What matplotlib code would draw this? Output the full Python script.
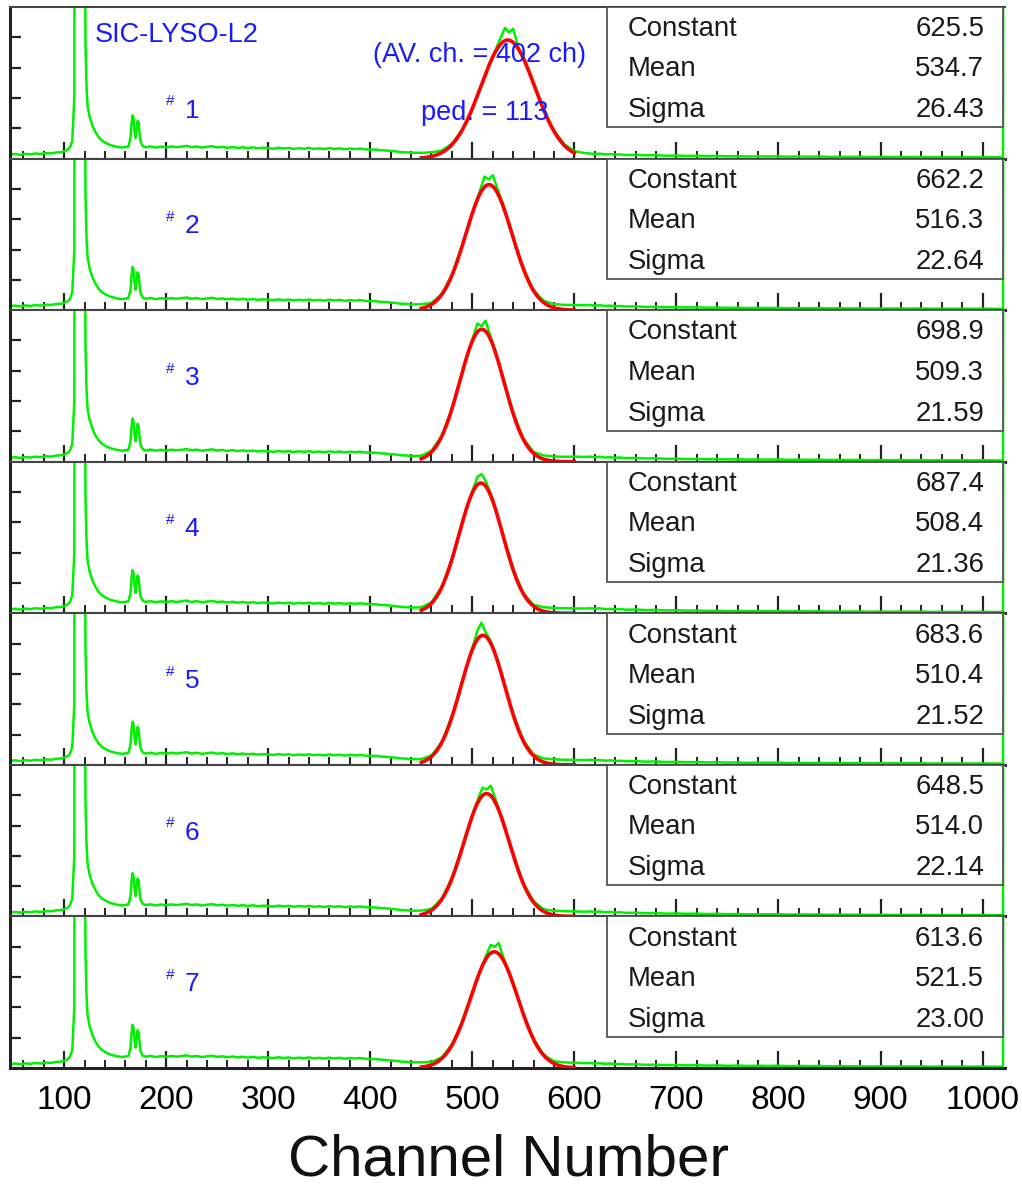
#!/usr/bin/env python3
"""
SIC-LYSO-L2 pulse height spectra for seven readouts, each with a gaussian fit
to the photo peak. Saves out.png.
"""

import numpy as np
import matplotlib.pyplot as plt
from matplotlib.patches import Rectangle
from matplotlib.ticker import MultipleLocator

plt.rcParams['font.family'] = ['Liberation Sans', 'DejaVu Sans']

# --- shared spectrum shape (pedestal + low energy part)
low_channels = [47, 52, 57, 62, 67, 72, 77, 82, 87, 92, 97, 101, 104, 106, 108, 110,
                111, 119, 120, 121, 122, 123, 125, 128, 131, 134, 137, 141, 145, 149,
                153, 157, 160, 163, 165, 166, 167, 168, 169, 170, 171, 172, 173, 174,
                175, 177, 180, 185, 190, 195, 200, 205, 210, 215, 220, 225, 230, 235,
                240, 245, 250, 255, 260, 265, 270, 275, 280, 285, 290, 295, 300, 305,
                310, 315, 320, 325, 330, 335, 340, 345, 350, 355, 360, 365, 370, 375,
                380, 385, 390, 395, 400, 405, 410, 415, 420, 425, 430, 435]
low_counts = [21, 24, 20, 25, 22, 27, 24, 29, 27, 32, 34, 40, 48, 62, 95, 320,
              5000, 5000, 1400, 600, 380, 280, 220, 170, 137, 112, 95, 82, 72, 66,
              61, 58, 61, 63, 105, 180, 228, 215, 145, 108, 155, 200, 190, 130,
              88, 66, 60, 64, 58, 63, 59, 64, 60, 63, 67, 60, 64, 58,
              62, 65, 59, 62, 57, 61, 56, 60, 55, 59, 54, 57, 55, 52,
              57, 53, 56, 51, 55, 52, 56, 51, 54, 50, 55, 51, 54, 49,
              53, 50, 53, 49, 47, 48, 44, 43, 40, 38, 34, 33]

# --- shared high channel tail (last channel is the overflow spike)
high_channels = [615, 620, 625, 630, 635, 640, 645, 650, 660, 670, 680, 690, 700, 710,
                 720, 730, 740, 750, 760, 770, 780, 790, 800, 810, 820, 830, 840, 850,
                 860, 870, 880, 890, 900, 910, 920, 930, 940, 950, 960, 970, 980, 990,
                 1000, 1010, 1018, 1020, 1021]
high_counts = [27, 24, 26, 22, 24, 21, 22, 19, 20, 17, 18, 15, 16, 14,
               15, 13, 14, 12, 13, 11, 12, 11, 12, 10, 11, 10, 11, 9,
               10, 9, 10, 8, 9, 8, 9, 8, 9, 7, 8, 7, 8, 7,
               8, 7, 7, 6, 5000]

# --- photo peak region, one list per readout
peak_channels = [
    [440, 450, 460, 470, 480, 490, 500, 510, 520, 528, 532, 536, 540, 545, 550, 560, 570, 580, 590, 600, 610],
    [440, 450, 460, 470, 480, 490, 500, 508, 512, 516, 520, 524, 530, 540, 550, 560, 570, 580, 590, 600, 610],
    [440, 450, 460, 470, 480, 490, 500, 505, 509, 513, 518, 525, 530, 540, 550, 560, 570, 580, 590, 600, 610],
    [440, 450, 460, 470, 480, 490, 500, 505, 509, 513, 518, 525, 530, 540, 550, 560, 570, 580, 590, 600, 610],
    [440, 450, 460, 470, 480, 490, 500, 505, 509, 513, 518, 525, 530, 540, 550, 560, 570, 580, 590, 600, 610],
    [440, 450, 460, 470, 480, 490, 500, 506, 510, 514, 518, 524, 530, 540, 550, 560, 570, 580, 590, 600, 610],
    [440, 450, 460, 470, 480, 490, 500, 510, 514, 518, 522, 526, 530, 540, 550, 560, 570, 580, 590, 600, 610],
]
peak_counts = [
    [31, 30, 33, 42, 78, 152, 263, 404, 540, 640, 690, 665, 685, 590, 535, 400, 258, 150, 76, 40, 29],
    [30, 31, 38, 85, 186, 340, 515, 640, 705, 690, 712, 650, 560, 385, 220, 106, 48, 32, 28, 27, 26],
    [30, 32, 58, 136, 280, 472, 645, 730, 715, 745, 660, 540, 445, 258, 122, 52, 33, 28, 26, 27, 25],
    [30, 32, 58, 139, 286, 478, 642, 720, 735, 700, 632, 512, 418, 233, 106, 45, 32, 28, 27, 26, 25],
    [30, 31, 50, 120, 256, 438, 615, 710, 750, 700, 655, 548, 456, 268, 130, 55, 34, 29, 27, 26, 25],
    [30, 31, 40, 93, 202, 364, 536, 625, 680, 670, 690, 600, 505, 330, 176, 80, 38, 30, 28, 27, 25],
    [30, 30, 33, 56, 124, 243, 400, 545, 600, 650, 640, 660, 590, 448, 288, 155, 70, 36, 30, 28, 26],
]

# --- gaussian fit results
fit_constant = [625.5, 662.2, 698.9, 687.4, 683.6, 648.5, 613.6]
fit_mean = [534.7, 516.3, 509.3, 508.4, 510.4, 514.0, 521.5]
fit_sigma = [26.43, 22.64, 21.59, 21.36, 21.52, 22.14, 23.00]
fit_range = (450, 600)

GREEN = '#00f000'
RED = '#ff0000'
BLUE = '#1a1aff'
FRAME = '#222222'


def style_axis(ax, show_labels):
    ax.set_xlim(47, 1022)
    ax.set_ylim(0, 800)
    ax.xaxis.set_major_locator(MultipleLocator(100))
    ax.xaxis.set_minor_locator(MultipleLocator(20))
    ax.set_yticks([160, 320, 480, 640])
    ax.set_yticklabels([])
    ax.tick_params(axis='x', which='major', direction='in', length=12, width=1.6,
                   color=FRAME, labelsize=24, pad=12, labelbottom=show_labels)
    ax.tick_params(axis='x', which='minor', direction='in', length=6, width=1.4,
                   color=FRAME)
    ax.tick_params(axis='y', which='major', direction='in', length=8, width=1.6,
                   color=FRAME, labelleft=False)
    ax.spines['right'].set_visible(False)
    ax.spines['top'].set_color('#444444')
    ax.spines['top'].set_linewidth(1.5)
    for side in ('left', 'bottom'):
        ax.spines[side].set_color(FRAME)
        ax.spines[side].set_linewidth(2.2)


def draw_stats(ax, i):
    box = Rectangle((0.600, 0.205), 0.398, 0.795, transform=ax.transAxes,
                    facecolor='white', edgecolor='#555555', linewidth=1.3, zorder=5)
    ax.add_patch(box)
    rows = [("Constant", f"{fit_constant[i]:.1f}"),
            ("Mean", f"{fit_mean[i]:.1f}"),
            ("Sigma", f"{fit_sigma[i]:.2f}")]
    for (name, val), y in zip(rows, [0.853, 0.588, 0.318]):
        ax.text(0.621, y, name, transform=ax.transAxes, fontsize=19.8,
                color='#1a1a1a', va='center', ha='left', zorder=6)
        ax.text(0.979, y, val, transform=ax.transAxes, fontsize=19.8,
                color='#1a1a1a', va='center', ha='right', zorder=6)


if __name__ == "__main__":
    fig = plt.figure(figsize=(10.22, 11.85), dpi=100)

    left, width = 0.0098, 0.9736
    top, bottom = 0.9941, 0.0987
    h = (top - bottom) / 7

    for i in range(7):
        ax = fig.add_axes([left, top - (i + 1) * h, width, h])

        ch = np.array(low_channels + peak_channels[i] + high_channels)
        cnt = np.array(low_counts + peak_counts[i] + high_counts)
        ax.plot(ch, cnt, color=GREEN, linewidth=1.8, zorder=2)

        xf = np.linspace(fit_range[0], fit_range[1], 300)
        yf = fit_constant[i] * np.exp(-0.5 * ((xf - fit_mean[i]) / fit_sigma[i]) ** 2)
        ax.plot(xf, yf, color=RED, linewidth=2.6, zorder=3)

        style_axis(ax, show_labels=(i == 6))
        draw_stats(ax, i)

        # readout number with the small raised '#'
        if i == 0:
            y_hash, y_num = 0.38, 0.313
        else:
            y_hash, y_num = 0.615, 0.553
        ax.text(0.161, y_hash, "#", transform=ax.transAxes, fontsize=11,
                color=BLUE, ha='center', va='center', zorder=6)
        ax.text(0.183, y_num, str(i + 1), transform=ax.transAxes, fontsize=19,
                color=BLUE, ha='center', va='center', zorder=6)

        if i == 0:
            ax.text(0.0854, 0.813, "SIC-LYSO-L2", transform=ax.transAxes,
                    fontsize=19.5, color=BLUE, ha='left', va='center', zorder=6)
            ax.text(0.472, 0.68, "(AV. ch. = 402 ch)", transform=ax.transAxes,
                    fontsize=19.5, color=BLUE, ha='center', va='center', zorder=6)
            ax.text(0.477, 0.30, "ped. = 113", transform=ax.transAxes,
                    fontsize=19.5, color=BLUE, ha='center', va='center', zorder=6)

    fig.text(0.498, 0.021, "Channel Number", fontsize=42, color='#111111',
             ha='center', va='center')

    fig.savefig("out.png", dpi=100)
